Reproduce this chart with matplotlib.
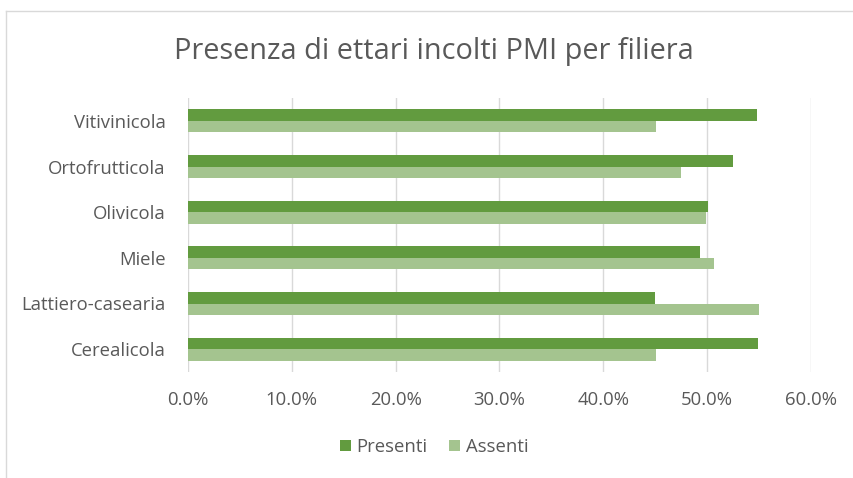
import matplotlib
matplotlib.use("Agg")
import matplotlib.pyplot as plt
from matplotlib.lines import Line2D
import numpy as np

categories = ["Vitivinicola", "Ortofrutticola", "Olivicola", "Miele", "Lattiero-casearia", "Cerealicola"]
presenti = [54.8, 52.5, 50.1, 49.3, 45.0, 54.9]
assenti = [45.1, 47.5, 49.9, 50.7, 55.0, 45.1]
xticks = [0, 10, 20, 30, 40, 50, 60]

dark = "#629B3F"
light = "#A4C48F"
txt = "#595959"

plt.rcParams["font.family"] = ["Open Sans", "DejaVu Sans"]

fig = plt.figure(figsize=(8.54, 4.78), dpi=100)
ax = fig.add_axes([188 / 854, 1 - 372 / 478, (811 - 188) / 854, (372 - 98) / 478])

y = np.arange(len(categories))
h = 0.25
ax.barh(y - h / 2, presenti, height=h, color=dark, label="Presenti", zorder=3)
ax.barh(y + h / 2, assenti, height=h, color=light, label="Assenti", zorder=3)

ax.set_ylim(len(categories) - 0.5, -0.5)
ax.set_xlim(0, 60)
ax.set_yticks(y)
ax.set_yticklabels(categories, fontsize=13.3, color=txt)
ax.set_xticks(xticks)
ax.set_xticklabels([f"{v:.1f}%" for v in xticks], fontsize=13.3, color=txt)
ax.tick_params(axis="y", length=0, pad=16)
ax.tick_params(axis="x", length=0, pad=14)
ax.grid(axis="x", color="#D9D9D9", linewidth=1, zorder=0)
for s in ax.spines.values():
    s.set_visible(False)

fig.text(434 / 854, 1 - 51 / 478, "Presenza di ettari incolti PMI per filiera",
         ha="center", va="center", fontsize=20.8, color=txt)

leg = fig.legend(loc="center", bbox_to_anchor=(434 / 854, 1 - 447 / 478), ncol=2, frameon=False,
                 fontsize=13.3, handlelength=0.6, handleheight=0.6, handletextpad=0.3, columnspacing=1.2)
for t in leg.get_texts():
    t.set_color(txt)

# chart border (light gray, cut off at right and bottom)
fig.add_artist(Line2D([6 / 854, 6 / 854], [0, 1 - 11 / 478], color="#D9D9D9", lw=1))
fig.add_artist(Line2D([6 / 854, 1], [1 - 11 / 478, 1 - 11 / 478], color="#D9D9D9", lw=1))

fig.savefig("out.png", dpi=100, facecolor="white")
